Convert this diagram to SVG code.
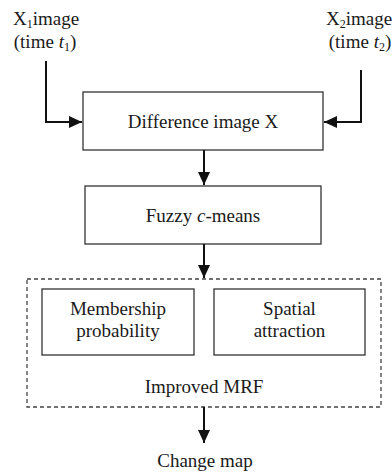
<svg xmlns="http://www.w3.org/2000/svg" width="392" height="472" viewBox="0 0 392 472">
  <style>
    text { font-family: "Liberation Serif", "Times New Roman", serif; font-size: 19px; fill: #1a1a1a; text-anchor: middle; }
    .sub { font-size: 12px; }
    .box { fill: #ffffff; stroke: #333333; stroke-width: 1.3; }
    .group { fill: none; stroke: #444444; stroke-width: 1.3; stroke-dasharray: 4 3; }
    .wire { fill: none; stroke: #111111; stroke-width: 2; }
  </style>
  <defs>
    <marker id="head" markerUnits="userSpaceOnUse" markerWidth="14" markerHeight="14" viewBox="0 0 14 14" refX="13" refY="7" orient="auto">
      <path d="M0,1 L13,7 L0,13 Z" fill="#111111"/>
    </marker>
  </defs>
  <rect width="392" height="472" fill="#ffffff"/>

  <g id="input-x1">
    <text x="46" y="25">X<tspan class="sub" dy="3">1</tspan><tspan dy="-3">image</tspan></text>
    <text x="45" y="48">(time <tspan font-style="italic">t</tspan><tspan class="sub" dy="3">1</tspan><tspan dy="-3">)</tspan></text>
  </g>

  <g id="input-x2">
    <text x="359" y="25">X<tspan class="sub" dy="3">2</tspan><tspan dy="-3">image</tspan></text>
    <text x="360" y="48">(time <tspan font-style="italic">t</tspan><tspan class="sub" dy="3">2</tspan><tspan dy="-3">)</tspan></text>
  </g>

  <g id="difference">
    <rect class="box" x="83" y="92" width="240" height="58"/>
    <text x="203" y="128">Difference image X</text>
  </g>

  <g id="fcm">
    <rect class="box" x="85" y="186" width="236" height="58"/>
    <text x="203" y="222">Fuzzy <tspan font-style="italic">c</tspan>-means</text>
  </g>

  <g id="mrf">
    <rect class="group" x="27" y="279" width="354" height="128"/>
    <text x="204" y="393">Improved MRF</text>
  </g>

  <g id="membership">
    <rect class="box" x="42" y="289" width="152" height="66"/>
    <text x="118" y="315">Membership</text>
    <text x="118" y="337">probability</text>
  </g>

  <g id="spatial">
    <rect class="box" x="214" y="289" width="151" height="66"/>
    <text x="289.5" y="315">Spatial</text>
    <text x="289.5" y="337">attraction</text>
  </g>

  <g id="output">
    <text x="205" y="467">Change map</text>
  </g>

  <g id="connectors">
    <path class="wire" d="M46,61 V122 H82" marker-end="url(#head)"/>
    <path class="wire" d="M361,70 V122 H324" marker-end="url(#head)"/>
    <path class="wire" d="M204,150 V185" marker-end="url(#head)"/>
    <path class="wire" d="M204,244 V278" marker-end="url(#head)"/>
    <path class="wire" d="M204,407 V443" marker-end="url(#head)"/>
  </g>
</svg>
